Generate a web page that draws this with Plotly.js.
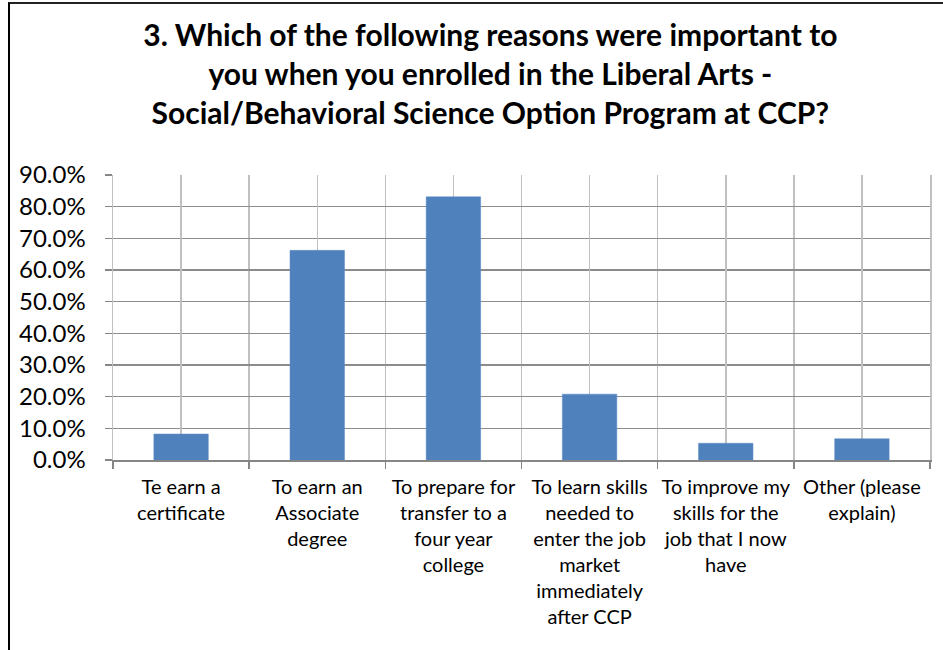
<!DOCTYPE html>
<html>
<head>
<meta charset="utf-8">
<script src="https://cdn.plot.ly/plotly-3.0.1.min.js"></script>
<style>
  html, body { margin: 0; padding: 0; background: #fff; overflow: hidden; }
  #chart { position: absolute; left: 0; top: 0; width: 943px; height: 650px; }
  #frame { position: absolute; left: 8px; top: 2px; width: 1200px; height: 900px;
           border-left: 2px solid #000; border-top: 2px solid #222; pointer-events: none; }
</style>
</head>
<body>
<div id="chart"></div>
<div id="frame"></div>
<script>
// ---- data ----
const categories = [
  "Te earn a certificate",
  "To earn an Associate degree",
  "To prepare for transfer to a four year college",
  "To learn skills needed to enter the job market immediately after CCP",
  "To improve my skills for the job that I now have",
  "Other (please explain)"
];
const tickLabels = [
  "Te earn a<br>certificate",
  "To earn an<br>Associate<br>degree",
  "To prepare for<br>transfer to a<br>four year<br>college",
  "To learn skills<br>needed to<br>enter the job<br>market<br>immediately<br>after CCP",
  "To improve my<br>skills for the<br>job that I now<br>have",
  "Other (please<br>explain)"
];
const percentValues = [8.2, 66.2, 83.1, 20.8, 5.3, 6.7];
const yTickValues = [0, 10, 20, 30, 40, 50, 60, 70, 80, 90];
const yTickLabels = ["0.0%", "10.0%", "20.0%", "30.0%", "40.0%", "50.0%", "60.0%", "70.0%", "80.0%", "90.0%"];
const titleText = "3. Which of the following reasons were important to<br>you when you enrolled in the Liberal Arts -<br>Social/Behavioral Science Option Program at CCP?";

const FONT = "Lato, 'Open Sans', sans-serif";

const bars = {
  type: "bar",
  x: categories,
  y: percentValues,
  marker: { color: "#4F81BD", line: { color: "#5a8ac6", width: 0.5 } },
  hoverinfo: "x+y"
};
// invisible companion trace so the secondary category axis draws its mid-category gridlines
const gridHelper = {
  type: "scatter",
  mode: "none",
  x: categories,
  y: percentValues,
  xaxis: "x2",
  yaxis: "y",
  hoverinfo: "skip",
  showlegend: false
};

const layout = {
  width: 943,
  height: 650,
  paper_bgcolor: "#ffffff",
  plot_bgcolor: "#ffffff",
  margin: { l: 113, r: 13, t: 175, b: 190, pad: 0 },
  showlegend: false,
  bargap: 0.6,
  font: { family: FONT, color: "#000" },
  title: {
    text: titleText,
    font: { family: FONT, size: 30, color: "#000", weight: "bold" },
    x: 0.52,
    xanchor: "center",
    xref: "container",
    y: 0.93,
    yanchor: "middle",
    yref: "container"
  },
  xaxis: {
    type: "category",
    categoryorder: "array",
    categoryarray: categories,
    tickvals: categories,
    ticktext: tickLabels,
    tickson: "boundaries",
    showgrid: true,
    gridcolor: "#c0c0c0",
    gridwidth: 1.5,
    ticks: "outside",
    ticklen: 7,
    tickcolor: "#868686",
    tickwidth: 1.5,
    ticklabelstandoff: 8,
    showline: true,
    linecolor: "#868686",
    linewidth: 2,
    tickfont: { family: FONT, size: 20, color: "#000" },
    tickangle: 0,
    range: [-0.5, 5.5],
    automargin: false,
    fixedrange: true
  },
  xaxis2: {
    overlaying: "x",
    anchor: "y",
    type: "category",
    categoryorder: "array",
    categoryarray: categories,
    range: [-0.5, 5.5],
    showgrid: true,
    gridcolor: "#c0c0c0",
    gridwidth: 1.5,
    showticklabels: false,
    ticks: "",
    showline: false,
    zeroline: false,
    automargin: false,
    fixedrange: true
  },
  yaxis: {
    range: [0, 90],
    tickvals: yTickValues,
    ticktext: yTickLabels,
    showgrid: true,
    gridcolor: "#8c8c8c",
    gridwidth: 1.5,
    zeroline: false,
    showline: true,
    mirror: true,
    linecolor: "#c0c0c0",
    linewidth: 1.5,
    ticks: "outside",
    ticklen: 7,
    tickcolor: "#868686",
    tickwidth: 1.5,
    ticklabelstandoff: 14,
    tickfont: { family: FONT, size: 24, color: "#000" },
    automargin: false,
    fixedrange: true
  }
};

Plotly.newPlot("chart", [bars, gridHelper], layout, { displayModeBar: false, staticPlot: true });
</script>
</body>
</html>
